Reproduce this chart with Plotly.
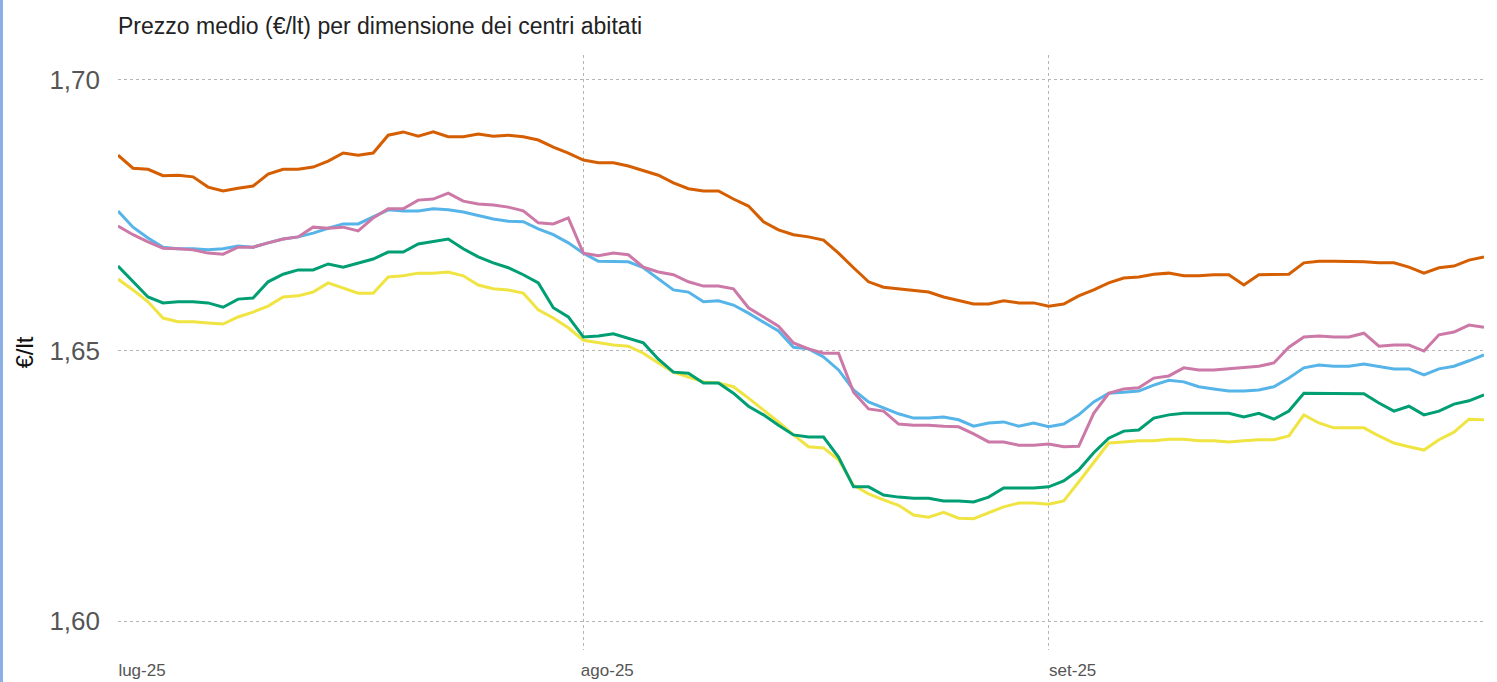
import pandas as pd
import plotly.graph_objects as go

dates = pd.date_range("2025-07-01", "2025-09-30", freq="D")

tick_vals = ["2025-07-01", "2025-08-01", "2025-09-01"]
tick_text = ["lug-25", "ago-25", "set-25"]
y_ticks = [1.60, 1.65, 1.70]

serie_a = [  # arancione
    1.6861, 1.6837, 1.6835, 1.6823, 1.6824, 1.6821, 1.6802, 1.6795, 1.6800, 1.6804,
    1.6826, 1.6835, 1.6835, 1.6839, 1.6850, 1.6865, 1.6861, 1.6865, 1.6898, 1.6904,
    1.6896, 1.6904, 1.6895, 1.6895, 1.6900, 1.6896, 1.6898, 1.6895, 1.6889, 1.6876,
    1.6865,
    1.6852, 1.6847, 1.6847, 1.6841, 1.6832, 1.6824, 1.6810, 1.6799, 1.6795, 1.6795,
    1.6780, 1.6767, 1.6738, 1.6723, 1.6714, 1.6710, 1.6704, 1.6680, 1.6653, 1.6627,
    1.6617, 1.6614, 1.6610, 1.6608, 1.6599, 1.6592, 1.6586, 1.6586, 1.6592, 1.6588,
    1.6588,
    1.6582, 1.6586, 1.6601, 1.6612, 1.6625, 1.6634, 1.6636, 1.6641, 1.6643, 1.6638,
    1.6638, 1.6640, 1.6640, 1.6621, 1.6640, 1.6640, 1.6641, 1.6662, 1.6665, 1.6665,
    1.6665, 1.6664, 1.6662, 1.6662, 1.6654, 1.6643, 1.6653, 1.6656, 1.6667, 1.6673,
]

serie_b = [  # azzurro
    1.6758, 1.6728, 1.6708, 1.6691, 1.6688, 1.6688, 1.6686, 1.6688, 1.6693, 1.6691,
    1.6699, 1.6706, 1.6710, 1.6717, 1.6726, 1.6734, 1.6734, 1.6747, 1.6760, 1.6758,
    1.6758, 1.6762, 1.6760, 1.6756, 1.6749, 1.6743, 1.6739, 1.6738, 1.6725, 1.6714,
    1.6699,
    1.6680, 1.6665, 1.6664, 1.6664, 1.6653, 1.6632, 1.6612, 1.6608, 1.6590, 1.6592,
    1.6584, 1.6569, 1.6553, 1.6536, 1.6506, 1.6503, 1.6488, 1.6464, 1.6427, 1.6405,
    1.6394, 1.6383, 1.6375, 1.6375, 1.6377, 1.6372, 1.6360, 1.6366, 1.6368, 1.6360,
    1.6366,
    1.6359, 1.6364, 1.6381, 1.6405, 1.6421, 1.6423, 1.6425, 1.6436, 1.6445, 1.6442,
    1.6433, 1.6429, 1.6425, 1.6425, 1.6427, 1.6433, 1.6449, 1.6468, 1.6473, 1.6471,
    1.6471, 1.6475, 1.6470, 1.6466, 1.6466, 1.6455, 1.6466, 1.6471, 1.6481, 1.6492,
]

serie_c = [  # rosa
    1.6730, 1.6714, 1.6701, 1.6689, 1.6688, 1.6686, 1.6680, 1.6678, 1.6691, 1.6691,
    1.6699, 1.6706, 1.6710, 1.6728, 1.6726, 1.6728, 1.6721, 1.6745, 1.6762, 1.6762,
    1.6778, 1.6780, 1.6791, 1.6776, 1.6771, 1.6769, 1.6765, 1.6758, 1.6736, 1.6734,
    1.6745,
    1.6680, 1.6675, 1.6680, 1.6677, 1.6654, 1.6645, 1.6640, 1.6627, 1.6619, 1.6619,
    1.6614, 1.6579, 1.6562, 1.6545, 1.6514, 1.6503, 1.6495, 1.6495, 1.6423, 1.6392,
    1.6388, 1.6364, 1.6362, 1.6362, 1.6360, 1.6359, 1.6346, 1.6331, 1.6331, 1.6325,
    1.6325,
    1.6327, 1.6322, 1.6323, 1.6384, 1.6421, 1.6429, 1.6431, 1.6449, 1.6453, 1.6468,
    1.6464, 1.6464, 1.6466, 1.6468, 1.6471, 1.6477, 1.6506, 1.6525, 1.6527, 1.6525,
    1.6525, 1.6532, 1.6508, 1.6510, 1.6510, 1.6499, 1.6529, 1.6534, 1.6547, 1.6543,
]

serie_d = [  # verde
    1.6656, 1.6627, 1.6599, 1.6588, 1.6590, 1.6590, 1.6588, 1.6580, 1.6595, 1.6597,
    1.6627, 1.6641, 1.6649, 1.6649, 1.6660, 1.6654, 1.6662, 1.6669, 1.6682, 1.6682,
    1.6697, 1.6701, 1.6706, 1.6688, 1.6673, 1.6662, 1.6653, 1.6640, 1.6625, 1.6579,
    1.6562,
    1.6525, 1.6527, 1.6531, 1.6523, 1.6514, 1.6484, 1.6460, 1.6458, 1.6440, 1.6440,
    1.6421, 1.6397, 1.6381, 1.6362, 1.6344, 1.6340, 1.6340, 1.6303, 1.6248, 1.6248,
    1.6233, 1.6229, 1.6227, 1.6227, 1.6222, 1.6222, 1.6220, 1.6229, 1.6246, 1.6246,
    1.6246,
    1.6248, 1.6259, 1.6279, 1.6311, 1.6338, 1.6351, 1.6353, 1.6375, 1.6381, 1.6384,
    1.6384, 1.6384, 1.6384, 1.6377, 1.6384, 1.6373, 1.6388, 1.6421, 1.6421, 1.6421,
    1.6421, 1.6420, 1.6403, 1.6388, 1.6397, 1.6381, 1.6388, 1.6401, 1.6407, 1.6418,
]

serie_e = [  # giallo
    1.6632, 1.6612, 1.6590, 1.6560, 1.6553, 1.6553, 1.6551, 1.6549, 1.6562, 1.6571,
    1.6582, 1.6599, 1.6601, 1.6608, 1.6625, 1.6616, 1.6606, 1.6606, 1.6636, 1.6638,
    1.6643, 1.6643, 1.6645, 1.6638, 1.6621, 1.6614, 1.6612, 1.6606, 1.6575, 1.6560,
    1.6542,
    1.6519, 1.6514, 1.6510, 1.6508, 1.6495, 1.6477, 1.6460, 1.6451, 1.6442, 1.6440,
    1.6433, 1.6412, 1.6390, 1.6368, 1.6344, 1.6322, 1.6320, 1.6298, 1.6251, 1.6235,
    1.6224, 1.6214, 1.6196, 1.6192, 1.6201, 1.6190, 1.6189, 1.6200, 1.6211, 1.6218,
    1.6218,
    1.6216, 1.6222, 1.6257, 1.6294, 1.6329, 1.6331, 1.6333, 1.6333, 1.6336, 1.6336,
    1.6333, 1.6333, 1.6331, 1.6333, 1.6335, 1.6335, 1.6342, 1.6381, 1.6366, 1.6357,
    1.6357, 1.6357, 1.6342, 1.6329, 1.6322, 1.6316, 1.6335, 1.6349, 1.6373, 1.6372,
]

series = [
    ("Comuni < 5.000 ab.", serie_e, "#F0E442"),
    ("Comuni 5.000-20.000 ab.", serie_d, "#009E73"),
    ("Comuni 20.000-100.000 ab.", serie_b, "#56B4E9"),
    ("Comuni 100.000-250.000 ab.", serie_c, "#CC79A7"),
    ("Comuni > 250.000 ab.", serie_a, "#D55E00"),
]

fig = go.Figure()
for name, vals, col in series:
    fig.add_trace(go.Scatter(
        x=dates, y=vals, mode="lines", name=name,
        line=dict(color=col, width=3),
    ))

W, H = 1497, 682
L, R, T, B = 118, 13, 55, 32

fig.update_layout(
    width=W, height=H,
    autosize=False,
    margin=dict(l=L, r=R, t=T, b=B, pad=0, autoexpand=False),
    paper_bgcolor="white", plot_bgcolor="white",
    showlegend=False,
    separators=",.",
    font=dict(family="Liberation Sans, Arial, sans-serif", color="#555555"),
    title=dict(
        text="Prezzo medio (€/lt) per dimensione dei centri abitati",
        x=L / W, xanchor="left", xref="container",
        y=1 - 26 / H, yanchor="middle", yref="container",
        font=dict(size=23, color="#222222"),
        automargin=False,
    ),
    xaxis=dict(
        range=[dates[0], dates[-1]],
        automargin=False,
        tickmode="array", tickvals=tick_vals, ticktext=tick_text,
        ticklabelshift=24, ticklabelstandoff=8,
        showgrid=True, gridcolor="#b5b5b5", griddash="dot", gridwidth=1,
        zeroline=False, showline=False, ticks="",
        tickfont=dict(size=17, color="#555555"),
    ),
    yaxis=dict(
        range=[1.59464, 1.70462],
        automargin=False,
        tickmode="array", tickvals=y_ticks, tickformat=".2f",
        showgrid=True, gridcolor="#b5b5b5", griddash="dot", gridwidth=1,
        zeroline=False, showline=False, ticks="",
        ticklabelstandoff=17,
        tickfont=dict(size=26, color="#555555"),
        title=dict(text="€/lt", font=dict(size=24, color="#111111"), standoff=8),
    ),
    shapes=[dict(
        type="line", xref="paper", yref="paper",
        x0=(1.5 - L) / (W - L - R), x1=(1.5 - L) / (W - L - R),
        y0=-B / (H - T - B) - 0.05, y1=1 + T / (H - T - B) + 0.05,
        line=dict(color="#8aaee6", width=3),
    )],
)

fig.write_html(
    "out.html",
    config={"displayModeBar": False},
    post_script="document.body.style.margin='0';document.body.style.overflow='hidden';",
)
